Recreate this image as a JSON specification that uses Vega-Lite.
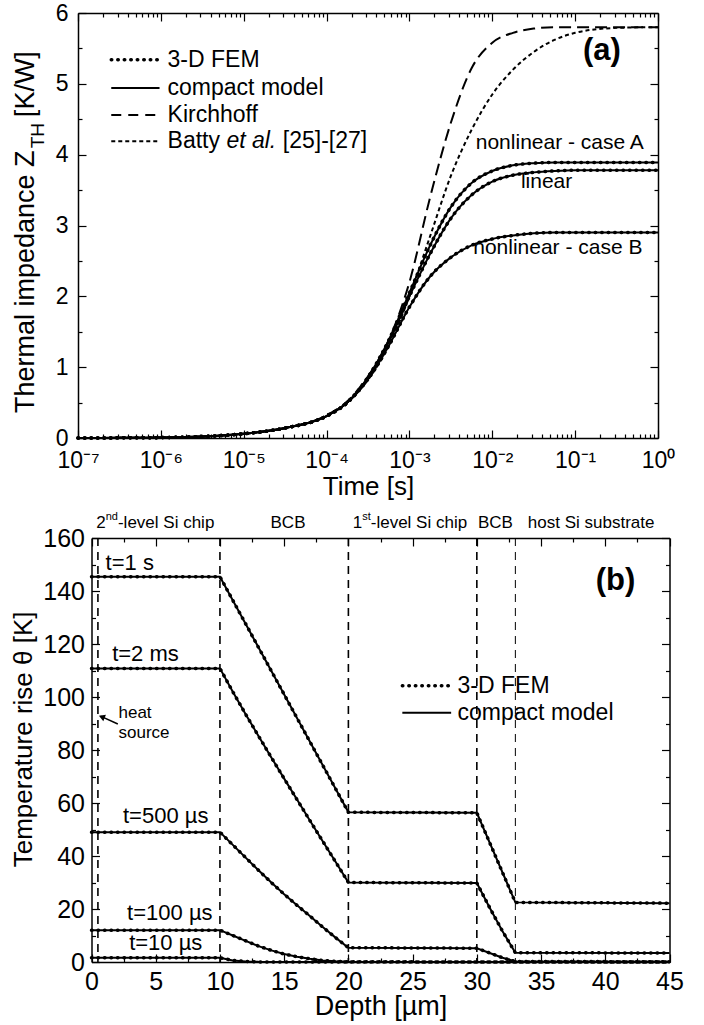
{
"$schema": "https://vega.github.io/schema/vega-lite/v6.json",
"background": "white",
"padding": {"left": 11, "top": 2, "right": 2, "bottom": 2},
"spacing": 11,
"config": {
  "view": {"stroke": null},
  "font": "Liberation Sans",
  "axis": {"labelFont": "Liberation Sans", "titleFont": "Liberation Sans", "labelColor": "black", "titleColor": "black", "tickColor": "black", "tickWidth": 1.2, "grid": false, "domain": true, "domainColor": "black", "domainWidth": 1.5, "titleFontWeight": "normal", "labelFlush": false, "labelOverlap": false},
  "text": {"font": "Liberation Sans", "color": "black"},
  "line": {"color": "black"},
  "rule": {"color": "black"}
},
"datasets": {
  "zth": [
    {"c":"linear","t":1e-7,"z":0},{"c":"linear","t":3.162e-7,"z":0.002},{"c":"linear","t":1e-6,"z":0.006},{"c":"linear","t":3.162e-6,"z":0.02},{"c":"linear","t":1e-5,"z":0.06},{"c":"linear","t":3.162e-5,"z":0.14},{"c":"linear","t":1e-4,"z":0.31},{"c":"linear","t":1.778e-4,"z":0.5},{"c":"linear","t":3.162e-4,"z":0.85},{"c":"linear","t":5.623e-4,"z":1.35},{"c":"linear","t":1e-3,"z":2.0},{"c":"linear","t":1.778e-3,"z":2.6},{"c":"linear","t":3.162e-3,"z":3.1},{"c":"linear","t":5.623e-3,"z":3.43},{"c":"linear","t":0.01,"z":3.62},{"c":"linear","t":0.01778,"z":3.71},{"c":"linear","t":0.03162,"z":3.75},{"c":"linear","t":0.05623,"z":3.77},{"c":"linear","t":0.1,"z":3.78},{"c":"linear","t":0.3162,"z":3.78},{"c":"linear","t":1,"z":3.78},
    {"c":"caseA","t":1e-7,"z":0},{"c":"caseA","t":3.162e-7,"z":0.002},{"c":"caseA","t":1e-6,"z":0.006},{"c":"caseA","t":3.162e-6,"z":0.02},{"c":"caseA","t":1e-5,"z":0.06},{"c":"caseA","t":3.162e-5,"z":0.14},{"c":"caseA","t":1e-4,"z":0.31},{"c":"caseA","t":1.778e-4,"z":0.5},{"c":"caseA","t":3.162e-4,"z":0.86},{"c":"caseA","t":5.623e-4,"z":1.38},{"c":"caseA","t":1e-3,"z":2.05},{"c":"caseA","t":1.778e-3,"z":2.72},{"c":"caseA","t":3.162e-3,"z":3.26},{"c":"caseA","t":5.623e-3,"z":3.6},{"c":"caseA","t":0.01,"z":3.77},{"c":"caseA","t":0.01778,"z":3.85},{"c":"caseA","t":0.03162,"z":3.88},{"c":"caseA","t":0.05623,"z":3.89},{"c":"caseA","t":0.1,"z":3.89},{"c":"caseA","t":0.3162,"z":3.89},{"c":"caseA","t":1,"z":3.89},
    {"c":"caseB","t":1e-7,"z":0},{"c":"caseB","t":3.162e-7,"z":0.002},{"c":"caseB","t":1e-6,"z":0.006},{"c":"caseB","t":3.162e-6,"z":0.02},{"c":"caseB","t":1e-5,"z":0.06},{"c":"caseB","t":3.162e-5,"z":0.14},{"c":"caseB","t":1e-4,"z":0.31},{"c":"caseB","t":1.778e-4,"z":0.5},{"c":"caseB","t":3.162e-4,"z":0.83},{"c":"caseB","t":5.623e-4,"z":1.3},{"c":"caseB","t":1e-3,"z":1.85},{"c":"caseB","t":1.778e-3,"z":2.28},{"c":"caseB","t":3.162e-3,"z":2.55},{"c":"caseB","t":5.623e-3,"z":2.72},{"c":"caseB","t":0.01,"z":2.81},{"c":"caseB","t":0.01778,"z":2.86},{"c":"caseB","t":0.03162,"z":2.89},{"c":"caseB","t":0.05623,"z":2.9},{"c":"caseB","t":0.1,"z":2.9},{"c":"caseB","t":0.3162,"z":2.9},{"c":"caseB","t":1,"z":2.9},
    {"c":"kirchhoff","t":1e-7,"z":0},{"c":"kirchhoff","t":3.162e-7,"z":0.002},{"c":"kirchhoff","t":1e-6,"z":0.006},{"c":"kirchhoff","t":3.162e-6,"z":0.02},{"c":"kirchhoff","t":1e-5,"z":0.06},{"c":"kirchhoff","t":3.162e-5,"z":0.14},{"c":"kirchhoff","t":1e-4,"z":0.32},{"c":"kirchhoff","t":1.778e-4,"z":0.52},{"c":"kirchhoff","t":3.162e-4,"z":0.87},{"c":"kirchhoff","t":5.623e-4,"z":1.38},{"c":"kirchhoff","t":1e-3,"z":2.2},{"c":"kirchhoff","t":1.778e-3,"z":3.4},{"c":"kirchhoff","t":3.162e-3,"z":4.45},{"c":"kirchhoff","t":5.623e-3,"z":5.22},{"c":"kirchhoff","t":0.01,"z":5.58},{"c":"kirchhoff","t":0.01778,"z":5.72},{"c":"kirchhoff","t":0.03162,"z":5.78},{"c":"kirchhoff","t":0.05623,"z":5.8},{"c":"kirchhoff","t":0.1,"z":5.8},{"c":"kirchhoff","t":0.3162,"z":5.8},{"c":"kirchhoff","t":1,"z":5.8},
    {"c":"batty","t":1e-7,"z":0},{"c":"batty","t":3.162e-7,"z":0.002},{"c":"batty","t":1e-6,"z":0.006},{"c":"batty","t":3.162e-6,"z":0.02},{"c":"batty","t":1e-5,"z":0.06},{"c":"batty","t":3.162e-5,"z":0.14},{"c":"batty","t":1e-4,"z":0.31},{"c":"batty","t":1.778e-4,"z":0.5},{"c":"batty","t":3.162e-4,"z":0.82},{"c":"batty","t":5.623e-4,"z":1.3},{"c":"batty","t":1e-3,"z":2.0},{"c":"batty","t":1.778e-3,"z":2.85},{"c":"batty","t":3.162e-3,"z":3.7},{"c":"batty","t":5.623e-3,"z":4.35},{"c":"batty","t":0.01,"z":4.85},{"c":"batty","t":0.01778,"z":5.2},{"c":"batty","t":0.03162,"z":5.45},{"c":"batty","t":0.05623,"z":5.62},{"c":"batty","t":0.1,"z":5.72},{"c":"batty","t":0.3162,"z":5.79},{"c":"batty","t":1,"z":5.8}
  ],
  "prof": [
    {"s":"1 s","d":0,"T":145.4},{"s":"1 s","d":10,"T":145.4},{"s":"1 s","d":20,"T":56.5},{"s":"1 s","d":30,"T":56.3},{"s":"1 s","d":33,"T":22.5},{"s":"1 s","d":45,"T":22.2},
    {"s":"2 ms","d":0,"T":110.8},{"s":"2 ms","d":10,"T":110.8},{"s":"2 ms","d":11,"T":102},{"s":"2 ms","d":12,"T":93.5},{"s":"2 ms","d":13,"T":85.3},{"s":"2 ms","d":14,"T":77.2},{"s":"2 ms","d":15,"T":69.2},{"s":"2 ms","d":16,"T":61.3},{"s":"2 ms","d":17,"T":53.4},{"s":"2 ms","d":18,"T":45.6},{"s":"2 ms","d":19,"T":37.8},{"s":"2 ms","d":20,"T":30},{"s":"2 ms","d":30,"T":29.8},{"s":"2 ms","d":31,"T":20.5},{"s":"2 ms","d":32,"T":11.6},{"s":"2 ms","d":33,"T":3.5},{"s":"2 ms","d":45,"T":3.4},
    {"s":"500 us","d":0,"T":49},{"s":"500 us","d":10,"T":49},{"s":"500 us","d":11,"T":44.2},{"s":"500 us","d":12,"T":39.4},{"s":"500 us","d":13,"T":34.6},{"s":"500 us","d":14,"T":30},{"s":"500 us","d":15,"T":25.6},{"s":"500 us","d":16,"T":21.4},{"s":"500 us","d":17,"T":17.4},{"s":"500 us","d":18,"T":13.2},{"s":"500 us","d":19,"T":9.2},{"s":"500 us","d":20,"T":5.4},{"s":"500 us","d":30,"T":5.2},{"s":"500 us","d":31,"T":3.4},{"s":"500 us","d":32,"T":1.6},{"s":"500 us","d":33,"T":0.2},{"s":"500 us","d":45,"T":0.1},
    {"s":"100 us","d":0,"T":12},{"s":"100 us","d":10,"T":12},{"s":"100 us","d":11,"T":10},{"s":"100 us","d":12,"T":8},{"s":"100 us","d":13,"T":6},{"s":"100 us","d":14,"T":4.4},{"s":"100 us","d":15,"T":3},{"s":"100 us","d":16,"T":2},{"s":"100 us","d":17,"T":1.2},{"s":"100 us","d":18,"T":0.6},{"s":"100 us","d":19,"T":0.25},{"s":"100 us","d":20,"T":0.1},{"s":"100 us","d":30,"T":0},{"s":"100 us","d":45,"T":0},
    {"s":"10 us","d":0,"T":1.6},{"s":"10 us","d":10,"T":1.6},{"s":"10 us","d":11,"T":0.6},{"s":"10 us","d":12,"T":0.2},{"s":"10 us","d":13,"T":0.05},{"s":"10 us","d":15,"T":0},{"s":"10 us","d":45,"T":0}
  ],
  "bounds": [{"d":0.5,"w":"thick"},{"d":10,"w":"thick"},{"d":20,"w":"thick"},{"d":30,"w":"thick"},{"d":33,"w":"thin"}]
},
"vconcat": [
{
  "width": 580, "height": 425,
  "resolve": {"axis": {"x": "independent", "y": "independent"}},
  "layer": [
    {"data": {"name": "zth"},
     "transform": [{"filter": "datum.c != 'kirchhoff' && datum.c != 'batty'"}],
     "mark": {"type": "line", "strokeWidth": 2, "interpolate": "monotone"},
     "encoding": {
       "x": {"field": "t", "type": "quantitative", "scale": {"type": "log", "domain": [1e-7, 1]},
             "axis": {"orient": "bottom", "values": [1e-7,2e-7,3e-7,4e-7,5e-7,6e-7,7e-7,8e-7,9e-7,1e-6,2e-6,3e-6,4e-6,5e-6,6e-6,7e-6,8e-6,9e-6,1e-5,2e-5,3e-5,4e-5,5e-5,6e-5,7e-5,8e-5,9e-5,1e-4,2e-4,3e-4,4e-4,5e-4,6e-4,7e-4,8e-4,9e-4,0.001,0.002,0.003,0.004,0.005,0.006,0.007,0.008,0.009,0.01,0.02,0.03,0.04,0.05,0.06,0.07,0.08,0.09,0.1,0.2,0.3,0.4,0.5,0.6,0.7,0.8,0.9,1],
                      "tickSize": {"condition": {"test": "abs(log(datum.value)/LN10 - round(log(datum.value)/LN10)) < 0.001", "value": -8}, "value": -4},
                      "labelExpr": "abs(log(datum.value)/LN10 - round(log(datum.value)/LN10)) < 0.001 ? '10' + (round(log(datum.value)/LN10) == 0 ? '⁰' : '⁻' + ['⁰','¹','²','³','⁴','⁵','⁶','⁷'][-round(log(datum.value)/LN10)]) : ''",
                      "labelFontSize": 23, "labelPadding": 19, "title": "Time [s]", "titleFontSize": 26, "titlePadding": -3}},
       "y": {"field": "z", "type": "quantitative", "scale": {"domain": [0, 6]},
             "axis": {"orient": "left", "values": [0,0.5,1,1.5,2,2.5,3,3.5,4,4.5,5,5.5,6],
                      "tickSize": {"condition": {"test": "datum.value % 1 == 0", "value": -8}, "value": -4},
                      "labelExpr": "datum.value % 1 == 0 ? format(datum.value, 'd') : ''",
                      "labelFontSize": 23, "labelPadding": 18, "title": null}},
       "detail": {"field": "c"}
     }},
    {"data": {"name": "zth"},
     "transform": [{"filter": "datum.c != 'kirchhoff' && datum.c != 'batty'"}],
     "mark": {"type": "line", "strokeWidth": 3.5, "strokeDash": [0.5, 6], "strokeCap": "round", "interpolate": "monotone"},
     "encoding": {
       "x": {"field": "t", "type": "quantitative", "scale": {"type": "log", "domain": [1e-7, 1]},
             "axis": {"orient": "top", "values": [1e-7,2e-7,3e-7,4e-7,5e-7,6e-7,7e-7,8e-7,9e-7,1e-6,2e-6,3e-6,4e-6,5e-6,6e-6,7e-6,8e-6,9e-6,1e-5,2e-5,3e-5,4e-5,5e-5,6e-5,7e-5,8e-5,9e-5,1e-4,2e-4,3e-4,4e-4,5e-4,6e-4,7e-4,8e-4,9e-4,0.001,0.002,0.003,0.004,0.005,0.006,0.007,0.008,0.009,0.01,0.02,0.03,0.04,0.05,0.06,0.07,0.08,0.09,0.1,0.2,0.3,0.4,0.5,0.6,0.7,0.8,0.9,1],
                      "tickSize": {"condition": {"test": "abs(log(datum.value)/LN10 - round(log(datum.value)/LN10)) < 0.001", "value": -8}, "value": -4},
                      "labels": false, "title": null}},
       "y": {"field": "z", "type": "quantitative", "scale": {"domain": [0, 6]},
             "axis": {"orient": "right", "values": [0,0.5,1,1.5,2,2.5,3,3.5,4,4.5,5,5.5,6],
                      "tickSize": {"condition": {"test": "datum.value % 1 == 0", "value": -8}, "value": -4},
                      "labels": false, "title": null}},
       "detail": {"field": "c"}
     }},
    {"data": {"name": "zth"},
     "transform": [{"filter": "datum.c == 'kirchhoff'"}],
     "mark": {"type": "line", "strokeWidth": 2, "strokeDash": [12, 6], "interpolate": "monotone"},
     "encoding": {
       "x": {"field": "t", "type": "quantitative", "scale": {"type": "log", "domain": [1e-7, 1]}, "axis": null},
       "y": {"field": "z", "type": "quantitative", "scale": {"domain": [0, 6]}, "axis": null}
     }},
    {"data": {"name": "zth"},
     "transform": [{"filter": "datum.c == 'batty'"}],
     "mark": {"type": "line", "strokeWidth": 2, "strokeDash": [4, 3], "interpolate": "monotone"},
     "encoding": {
       "x": {"field": "t", "type": "quantitative", "scale": {"type": "log", "domain": [1e-7, 1]}, "axis": null},
       "y": {"field": "z", "type": "quantitative", "scale": {"domain": [0, 6]}, "axis": null}
     }},
    {"data": {"values": [{}]},
     "mark": {"type": "rule", "strokeWidth": 3.5, "strokeDash": [0.5, 6], "strokeCap": "round"},
     "encoding": {"x": {"datum": 2.52e-7, "type": "quantitative", "scale": {"type": "log", "domain": [1e-7, 1]}, "axis": null}, "x2": {"datum": 9.64e-7}, "y": {"datum": 5.34, "type": "quantitative", "axis": null}}},
    {"data": {"values": [{}]},
     "mark": {"type": "rule", "strokeWidth": 2},
     "encoding": {"x": {"datum": 2.52e-7, "type": "quantitative", "scale": {"type": "log", "domain": [1e-7, 1]}, "axis": null}, "x2": {"datum": 9.64e-7}, "y": {"datum": 4.94, "type": "quantitative", "axis": null}}},
    {"data": {"values": [{}]},
     "mark": {"type": "rule", "strokeWidth": 2, "strokeDash": [10, 7]},
     "encoding": {"x": {"datum": 2.52e-7, "type": "quantitative", "scale": {"type": "log", "domain": [1e-7, 1]}, "axis": null}, "x2": {"datum": 9.64e-7}, "y": {"datum": 4.56, "type": "quantitative", "axis": null}}},
    {"data": {"values": [{}]},
     "mark": {"type": "rule", "strokeWidth": 2, "strokeDash": [4, 3]},
     "encoding": {"x": {"datum": 2.52e-7, "type": "quantitative", "scale": {"type": "log", "domain": [1e-7, 1]}, "axis": null}, "x2": {"datum": 9.64e-7}, "y": {"datum": 4.19, "type": "quantitative", "axis": null}}},
    {"data": {"values": [{"label": "3-D FEM", "y": 5.34}, {"label": "compact model", "y": 4.94}, {"label": "Kirchhoff", "y": 4.56}, {"label": "Batty", "y": 4.19}]},
     "mark": {"type": "text", "align": "left", "baseline": "middle", "fontSize": 23},
     "encoding": {"x": {"datum": 1.205e-6, "type": "quantitative", "scale": {"type": "log", "domain": [1e-7, 1]}, "axis": null}, "y": {"field": "y", "type": "quantitative", "axis": null}, "text": {"field": "label"}}},
    {"data": {"values": [{}]},
     "mark": {"type": "text", "align": "left", "baseline": "middle", "fontSize": 23, "fontStyle": "italic"},
     "encoding": {"x": {"datum": 6.18e-6, "type": "quantitative", "scale": {"type": "log", "domain": [1e-7, 1]}, "axis": null}, "y": {"datum": 4.19, "type": "quantitative", "axis": null}, "text": {"value": "et al."}}},
    {"data": {"values": [{}]},
     "mark": {"type": "text", "align": "left", "baseline": "middle", "fontSize": 23},
     "encoding": {"x": {"datum": 2.96e-5, "type": "quantitative", "scale": {"type": "log", "domain": [1e-7, 1]}, "axis": null}, "y": {"datum": 4.19, "type": "quantitative", "axis": null}, "text": {"value": "[25]-[27]"}}},
    {"data": {"values": [{"label": "nonlinear - case A", "t": 0.0653, "y": 4.16}, {"label": "linear", "t": 0.0452, "y": 3.62}, {"label": "nonlinear - case B", "t": 0.0618, "y": 2.68}]},
     "mark": {"type": "text", "align": "center", "baseline": "middle", "fontSize": 21},
     "encoding": {"x": {"field": "t", "type": "quantitative", "scale": {"type": "log", "domain": [1e-7, 1]}, "axis": null}, "y": {"field": "y", "type": "quantitative", "axis": null}, "text": {"field": "label"}}},
    {"data": {"values": [{}]},
     "mark": {"type": "text", "align": "center", "baseline": "middle", "fontSize": 31, "fontWeight": "bold"},
     "encoding": {"x": {"datum": 0.21, "type": "quantitative", "scale": {"type": "log", "domain": [1e-7, 1]}, "axis": null}, "y": {"datum": 5.46, "type": "quantitative", "axis": null}, "text": {"value": "(a)"}}},
    {"data": {"values": [{}]},
     "mark": {"type": "text", "align": "right", "baseline": "alphabetic", "angle": 270, "fontSize": 27},
     "encoding": {"x": {"datum": 2.985e-8, "type": "quantitative", "scale": {"type": "log", "domain": [1e-7, 1]}, "axis": null}, "y": {"datum": 4.06, "type": "quantitative", "axis": null}, "text": {"value": "Thermal impedance Z"}}},
    {"data": {"values": [{}]},
     "mark": {"type": "text", "align": "left", "baseline": "alphabetic", "angle": 270, "fontSize": 19},
     "encoding": {"x": {"datum": 3.936e-8, "type": "quantitative", "scale": {"type": "log", "domain": [1e-7, 1]}, "axis": null}, "y": {"datum": 4.09, "type": "quantitative", "axis": null}, "text": {"value": "TH"}}},
    {"data": {"values": [{}]},
     "mark": {"type": "text", "align": "left", "baseline": "alphabetic", "angle": 270, "fontSize": 27},
     "encoding": {"x": {"datum": 2.985e-8, "type": "quantitative", "scale": {"type": "log", "domain": [1e-7, 1]}, "axis": null}, "y": {"datum": 4.53, "type": "quantitative", "axis": null}, "text": {"value": "[K/W]"}}}
  ]
},
{
  "width": 591.5, "height": 424,
  "resolve": {"axis": {"x": "independent", "y": "independent"}},
  "layer": [
    {"data": {"name": "bounds"},
     "mark": {"type": "rule", "strokeDash": [8, 6]},
     "encoding": {
       "x": {"field": "d", "type": "quantitative", "scale": {"domain": [0, 45], "range": [13.5, 591.5]}, "axis": null},
       "strokeWidth": {"field": "w", "type": "nominal", "scale": {"domain": ["thick", "thin"], "range": [1.6, 1]}, "legend": null}
     }},
    {"data": {"name": "prof"},
     "mark": {"type": "line", "strokeWidth": 2},
     "encoding": {
       "x": {"field": "d", "type": "quantitative", "scale": {"domain": [0, 45], "range": [13.5, 591.5]},
             "axis": {"orient": "bottom", "values": [0,2.5,5,7.5,10,12.5,15,17.5,20,22.5,25,27.5,30,32.5,35,37.5,40,42.5,45],
                      "tickSize": {"condition": {"test": "datum.value % 5 == 0", "value": -8}, "value": -4},
                      "labelExpr": "datum.value % 5 == 0 ? format(datum.value, 'd') : ''",
                      "labelFontSize": 25, "labelPadding": 15.5, "title": "Depth [µm]", "titleFontSize": 27, "titlePadding": -5}},
       "y": {"field": "T", "type": "quantitative", "scale": {"domain": [0, 160]},
             "axis": {"orient": "left", "offset": -13.5, "values": [0,10,20,30,40,50,60,70,80,90,100,110,120,130,140,150,160],
                      "tickSize": {"condition": {"test": "datum.value % 20 == 0", "value": -8}, "value": -4},
                      "labelExpr": "datum.value % 20 == 0 ? format(datum.value, 'd') : ''",
                      "labelFontSize": 25, "labelPadding": 15, "title": null}},
       "detail": {"field": "s"}
     }},
    {"data": {"name": "prof"},
     "mark": {"type": "line", "strokeWidth": 3.5, "strokeDash": [0.5, 6], "strokeCap": "round"},
     "encoding": {
       "x": {"field": "d", "type": "quantitative", "scale": {"domain": [0, 45], "range": [13.5, 591.5]},
             "axis": {"orient": "top", "values": [0,2.5,5,7.5,10,12.5,15,17.5,20,22.5,25,27.5,30,32.5,35,37.5,40,42.5,45],
                      "tickSize": {"condition": {"test": "datum.value % 5 == 0", "value": -8}, "value": -4},
                      "labels": false, "title": null}},
       "y": {"field": "T", "type": "quantitative", "scale": {"domain": [0, 160]},
             "axis": {"orient": "right", "values": [0,10,20,30,40,50,60,70,80,90,100,110,120,130,140,150,160],
                      "tickSize": {"condition": {"test": "datum.value % 20 == 0", "value": -8}, "value": -4},
                      "labels": false, "title": null}},
       "detail": {"field": "s"}
     }},
    {"data": {"values": [{}]},
     "mark": {"type": "rule", "strokeWidth": 3.5, "strokeDash": [0.5, 6], "strokeCap": "round"},
     "encoding": {"x": {"datum": 24.2, "type": "quantitative", "scale": {"domain": [0, 45], "range": [13.5, 591.5]}, "axis": null}, "x2": {"datum": 28.0}, "y": {"datum": 104.2, "type": "quantitative", "axis": null}}},
    {"data": {"values": [{}]},
     "mark": {"type": "rule", "strokeWidth": 2},
     "encoding": {"x": {"datum": 24.2, "type": "quantitative", "scale": {"domain": [0, 45], "range": [13.5, 591.5]}, "axis": null}, "x2": {"datum": 28.0}, "y": {"datum": 94.1, "type": "quantitative", "axis": null}}},
    {"data": {"values": [{"label": "3-D FEM", "y": 104.2}, {"label": "compact model", "y": 94.1}]},
     "mark": {"type": "text", "align": "left", "baseline": "middle", "fontSize": 23},
     "encoding": {"x": {"datum": 28.5, "type": "quantitative", "scale": {"domain": [0, 45], "range": [13.5, 591.5]}, "axis": null}, "y": {"field": "y", "type": "quantitative", "axis": null}, "text": {"field": "label"}}},
    {"data": {"values": [{"label": "t=1 s", "x": 2.98, "y": 150.7}, {"label": "t=2 ms", "x": 4.2, "y": 116.1}, {"label": "t=500 µs", "x": 5.78, "y": 55.1}, {"label": "t=100 µs", "x": 6.1, "y": 18.6}, {"label": "t=10 µs", "x": 5.78, "y": 7.3}]},
     "mark": {"type": "text", "align": "center", "baseline": "middle", "fontSize": 22},
     "encoding": {"x": {"field": "x", "type": "quantitative", "scale": {"domain": [0, 45], "range": [13.5, 591.5]}, "axis": null}, "y": {"field": "y", "type": "quantitative", "axis": null}, "text": {"field": "label"}}},
    {"data": {"values": [{"label": "2", "x": 0.37}, {"label": "-level Si chip", "x": 2.06}, {"label": "1", "x": 20.33}, {"label": "-level Si chip", "x": 21.74}]},
     "mark": {"type": "text", "align": "left", "baseline": "middle", "fontSize": 17},
     "encoding": {"x": {"field": "x", "type": "quantitative", "scale": {"domain": [0, 45], "range": [13.5, 591.5]}, "axis": null}, "y": {"datum": 165.8, "type": "quantitative", "axis": null}, "text": {"field": "label"}}},
    {"data": {"values": [{"label": "nd", "x": 1.1}, {"label": "st", "x": 21.07}]},
     "mark": {"type": "text", "align": "left", "baseline": "middle", "fontSize": 11},
     "encoding": {"x": {"field": "x", "type": "quantitative", "scale": {"domain": [0, 45], "range": [13.5, 591.5]}, "axis": null}, "y": {"datum": 168.0, "type": "quantitative", "axis": null}, "text": {"field": "label"}}},
    {"data": {"values": [{"label": "BCB", "x": 15.3}, {"label": "BCB", "x": 31.45}, {"label": "host Si substrate", "x": 38.9}]},
     "mark": {"type": "text", "align": "center", "baseline": "middle", "fontSize": 17},
     "encoding": {"x": {"field": "x", "type": "quantitative", "scale": {"domain": [0, 45], "range": [13.5, 591.5]}, "axis": null}, "y": {"datum": 165.8, "type": "quantitative", "axis": null}, "text": {"field": "label"}}},
    {"data": {"values": [{"label": "heat", "y": 94.1}, {"label": "source", "y": 86.6}]},
     "mark": {"type": "text", "align": "left", "baseline": "middle", "fontSize": 17},
     "encoding": {"x": {"datum": 2.1, "type": "quantitative", "scale": {"domain": [0, 45], "range": [13.5, 591.5]}, "axis": null}, "y": {"field": "y", "type": "quantitative", "axis": null}, "text": {"field": "label"}}},
    {"data": {"values": [{}]},
     "mark": {"type": "rule", "strokeWidth": 1.5},
     "encoding": {"x": {"datum": 2.05, "type": "quantitative", "scale": {"domain": [0, 45], "range": [13.5, 591.5]}, "axis": null}, "x2": {"datum": 0.7}, "y": {"datum": 89.8, "type": "quantitative", "axis": null}, "y2": {"datum": 92.8}}},
    {"data": {"values": [{}]},
     "mark": {"type": "point", "shape": "triangle-up", "filled": true, "size": 50, "angle": 292, "color": "black", "opacity": 1},
     "encoding": {"x": {"datum": 0.8, "type": "quantitative", "scale": {"domain": [0, 45], "range": [13.5, 591.5]}, "axis": null}, "y": {"datum": 92.5, "type": "quantitative", "axis": null}}},
    {"data": {"values": [{}]},
     "mark": {"type": "text", "align": "center", "baseline": "middle", "fontSize": 31, "fontWeight": "bold"},
     "encoding": {"x": {"datum": 40.8, "type": "quantitative", "scale": {"domain": [0, 45], "range": [13.5, 591.5]}, "axis": null}, "y": {"datum": 143.8, "type": "quantitative", "axis": null}, "text": {"value": "(b)"}}},
    {"data": {"values": [{}]},
     "mark": {"type": "text", "align": "center", "baseline": "alphabetic", "angle": 270, "fontSize": 26},
     "encoding": {"x": {"datum": -4.6, "type": "quantitative", "scale": {"domain": [0, 45], "range": [13.5, 591.5]}, "axis": null}, "y": {"datum": 84, "type": "quantitative", "axis": null}, "text": {"value": "Temperature rise θ [K]"}}}
  ]
}
]
}
